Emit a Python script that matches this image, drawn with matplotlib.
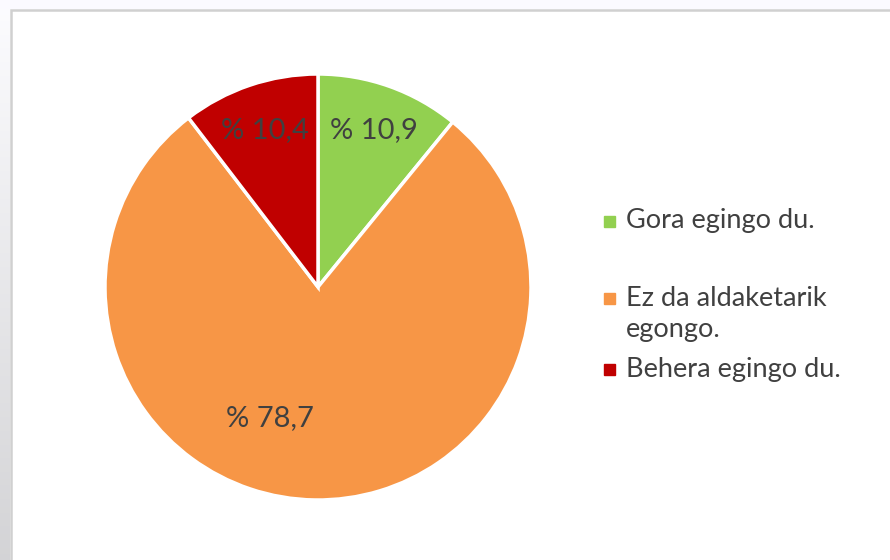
import numpy as np
import matplotlib.pyplot as plt
from matplotlib.patches import Rectangle

# data
labels = ['Gora egingo du.', 'Ez da aldaketarik\negongo.', 'Behera egingo du.']
values = [10.9, 78.7, 10.4]
colors = ['#92D050', '#F79646', '#C00000']
value_text = ['% 10,9', '% 78,7', '% 10,4']

W, H = 890, 560
fig = plt.figure(figsize=(W / 100, H / 100), dpi=100)
fig.patch.set_facecolor('white')
plt.rcParams['font.family'] = ['Lato', 'DejaVu Sans']
txt_col = '#404040'

# screenshot background outside the chart frame
bg = fig.add_axes([0, 0, 1, 1], zorder=-10)
grad = np.linspace(0.99, 0.83, 200)[:, None]
bg.imshow(np.dstack([grad, grad, (grad + 0.01).clip(0, 1)]),
          extent=[0, 10, 0, H], aspect='auto', origin='upper')
bg.add_patch(Rectangle((0, H - 9), W, 9, color='#fbfaff', lw=0))
bg.add_patch(Rectangle((10.5, -5), W + 10, H - 9.5 + 5, facecolor='white',
                       edgecolor='#d0d0d0', lw=1.8))
bg.set_xlim(0, W)
bg.set_ylim(0, H)
bg.axis('off')

# pie
cx, cy, r = 318, 287, 213
ax = fig.add_axes([(cx - r) / W, (H - cy - r) / H, 2 * r / W, 2 * r / H])
wedges, _ = ax.pie(values, colors=colors, startangle=90, counterclock=False,
                   radius=1, wedgeprops=dict(edgecolor='white', linewidth=2.5))
ax.set_xlim(-1, 1)
ax.set_ylim(-1, 1)
ax.set_aspect('auto')

# data labels (Excel best-fit style)
label_pos = [(0.78, None), (0.655, 250), (0.78, None)]
for w, t, (dist, ang) in zip(wedges, value_text, label_pos):
    if ang is None:
        ang = (w.theta1 + w.theta2) / 2
    a = np.deg2rad(ang)
    ax.text(dist * np.cos(a), dist * np.sin(a), t, ha='center', va='center',
            fontsize=21, color=txt_col)

# legend drawn by hand to match Excel layout
leg_y = [221, 298, 369]
for lab, col, y in zip(labels, colors, leg_y):
    fig.patches.append(Rectangle((604 / W, 1 - (y + 6) / H), 11 / W, 11 / H,
                                 color=col, transform=fig.transFigure))
    lines = lab.split('\n')
    for i, ln in enumerate(lines):
        fig.text(626 / W, 1 - (y + i * 32) / H, ln, ha='left', va='center',
                 fontsize=19.5, color=txt_col)

fig.savefig('out.png', dpi=100)
